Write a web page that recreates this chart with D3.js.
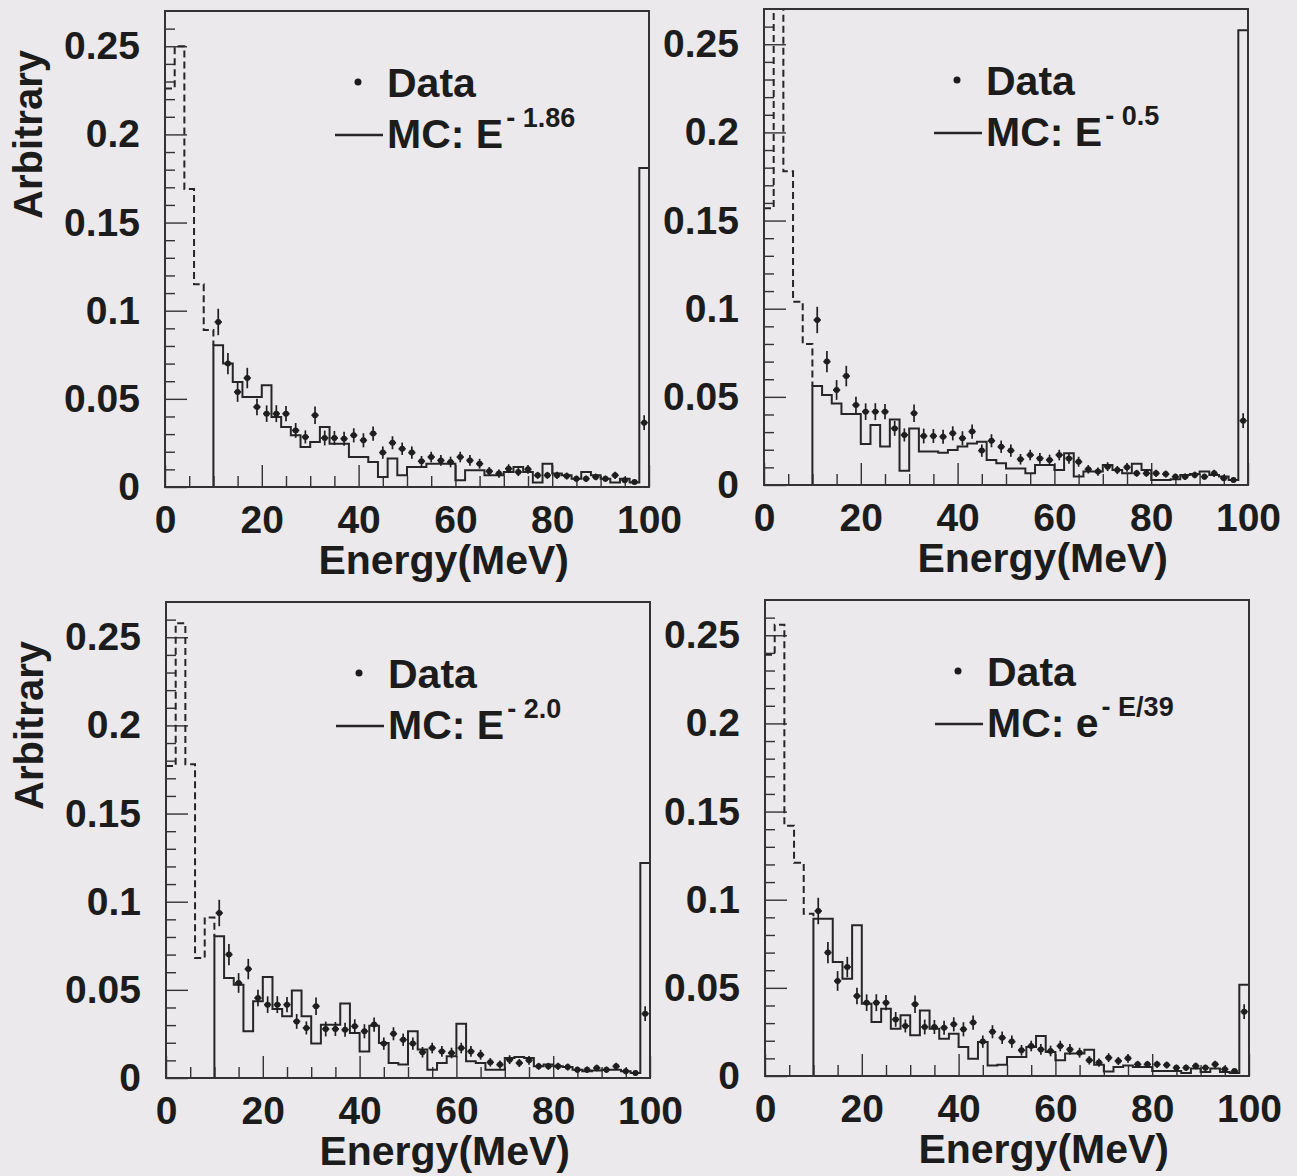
<!DOCTYPE html>
<html>
<head>
<meta charset="utf-8">
<script src="https://cdn.jsdelivr.net/npm/d3@7"></script>
<style>
  html, body { margin: 0; padding: 0; background: #ebe9eb; }
  svg { display: block; }
  text { font-family: "Liberation Sans", Arial, Helvetica, sans-serif; font-weight: bold; fill: #1c1c1c; }
</style>
</head>
<body>
<svg id="chart" width="1297" height="1176"></svg>
<script>
// Lower edges of the 2 MeV energy bins (MeV)
const binLowEdges = [0, 2, 4, 6, 8, 10, 12, 14, 16, 18, 20, 22, 24, 26, 28, 30, 32, 34, 36, 38,
  40, 42, 44, 46, 48, 50, 52, 54, 56, 58, 60, 62, 64, 66, 68, 70, 72, 74, 76, 78,
  80, 82, 84, 86, 88, 90, 92, 94, 96, 98];
const binWidth = 2;
const thresholdMeV = 10; // MC below this energy is drawn dashed

// Measured spectrum (bin centres, normalised content, statistical error)
const dataEnergy = [11, 13, 15, 17, 19, 21, 23, 25, 27, 29, 31, 33, 35, 37, 39, 41, 43, 45, 47, 49,
  51, 53, 55, 57, 59, 61, 63, 65, 67, 69, 71, 73, 75, 77, 79, 81, 83, 85, 87, 89,
  91, 93, 95, 97, 99];
const dataValue = [0.0936, 0.070, 0.0539, 0.0618, 0.0454, 0.0416, 0.0416, 0.0416, 0.0321, 0.0284,
  0.0407, 0.0278, 0.0278, 0.0274, 0.0293, 0.0265, 0.0303, 0.0195, 0.0251, 0.0217,
  0.0195, 0.0146, 0.0170, 0.0151, 0.0142, 0.0170, 0.0151, 0.0132, 0.0089, 0.0076,
  0.0104, 0.0085, 0.0100, 0.0066, 0.0066, 0.0066, 0.0062, 0.0047, 0.0047, 0.0057,
  0.0047, 0.0066, 0.0038, 0.0028, 0.0365];
const dataError = [0.0075, 0.0060, 0.0056, 0.0058, 0.0047, 0.0047, 0.0048, 0.0043, 0.0042, 0.0037,
  0.0049, 0.0042, 0.0040, 0.0040, 0.0040, 0.0040, 0.0040, 0.0035, 0.0037, 0.0035,
  0.0035, 0.0030, 0.0030, 0.0030, 0.0030, 0.0030, 0.0030, 0.0028, 0.0024, 0.0023,
  0.0025, 0.0023, 0.0025, 0.0020, 0.0020, 0.0020, 0.0020, 0.0018, 0.0018, 0.0019,
  0.0018, 0.0020, 0.0016, 0.0014, 0.0042];

// Monte Carlo spectra, one value per 2 MeV bin (0-100 MeV)
const mcPowerE186 = [0.226, 0.250, 0.169, 0.115, 0.089,
  0.0804, 0.070, 0.0596, 0.051, 0.051, 0.0577, 0.0397, 0.034, 0.0293, 0.0227,
  0.0255, 0.034, 0.0246, 0.0246, 0.017, 0.017, 0.0142, 0.0057, 0.0161, 0.0066,
  0.0113, 0.0113, 0.0132, 0.0132, 0.0132, 0.0038, 0.0095, 0.0095, 0.0066, 0.0066,
  0.0085, 0.0113, 0.0085, 0.0025, 0.0132, 0.0076, 0.0066, 0.0047, 0.0085, 0.0066,
  0.0047, 0.0025, 0.0047, 0.0025, 0.181];
const mcPowerE05 = [0.157, 0.300, 0.178, 0.104, 0.080,
  0.0562, 0.0511, 0.0463, 0.0403, 0.0403, 0.0232, 0.0341, 0.0218, 0.0372, 0.0081,
  0.0321, 0.019, 0.019, 0.0183, 0.0199, 0.0218, 0.0236, 0.0245, 0.0142, 0.0123,
  0.0094, 0.0094, 0.0066, 0.0114, 0.0114, 0.0085, 0.018, 0.0048, 0.0076, 0.0076,
  0.0114, 0.0085, 0.0066, 0.012, 0.0085, 0.0028, 0.0028, 0.0032, 0.0057, 0.0063,
  0.0076, 0.0057, 0.0048, 0.0028, 0.258];
const mcPowerE20 = [0.177, 0.258, 0.178, 0.068, 0.091,
  0.0804, 0.0567, 0.0529, 0.0265, 0.0435, 0.0573, 0.0391, 0.035, 0.0497, 0.035,
  0.0195, 0.0302, 0.0302, 0.0422, 0.0255, 0.0151, 0.0297, 0.0199, 0.0085, 0.0076,
  0.0265, 0.0161, 0.0047, 0.0085, 0.0123, 0.0308, 0.0095, 0.0085, 0.0047, 0.0047,
  0.0113, 0.0119, 0.0113, 0.0066, 0.0076, 0.0066, 0.0062, 0.0047, 0.0038, 0.0042,
  0.0047, 0.0047, 0.0038, 0.0028, 0.122];
const mcExpE39 = [0.239, 0.256, 0.142, 0.121, 0.092,
  0.0892, 0.0892, 0.0647, 0.0552, 0.0855, 0.041, 0.0306, 0.0382, 0.0268, 0.0344,
  0.0231, 0.0372, 0.0268, 0.0212, 0.024, 0.0164, 0.0098, 0.0193, 0.006, 0.0064,
  0.0108, 0.0108, 0.0164, 0.0227, 0.0136, 0.0089, 0.0127, 0.0127, 0.0149, 0.0064,
  0.0026, 0.0051, 0.006, 0.0051, 0.0051, 0.0028, 0.0028, 0.0028, 0.0017, 0.0042,
  0.0023, 0.0042, 0.0023, 0.0017, 0.0518];

// Axis ticks and labels
const xMajorTicks = [0, 20, 40, 60, 80, 100];
const xTickLabels = ["0", "20", "40", "60", "80", "100"];
const xMinorTicks = [5, 10, 15, 25, 30, 35, 45, 50, 55, 65, 70, 75, 85, 90, 95];
const yMajorTicks = [0, 0.05, 0.1, 0.15, 0.2, 0.25];
const yTickLabels = ["0", "0.05", "0.1", "0.15", "0.2", "0.25"];
const yMinorTicks = [0.01, 0.02, 0.03, 0.04, 0.06, 0.07, 0.08, 0.09, 0.11, 0.12, 0.13, 0.14,
  0.16, 0.17, 0.18, 0.19, 0.21, 0.22, 0.23, 0.24, 0.26];

// Legend texts
const legendBase = ["E", "E", "E", "e"];
const legendExponent = ["- 1.86", "- 0.5", "- 2.0", "- E/39"];
const mcSeries = [mcPowerE186, mcPowerE05, mcPowerE20, mcExpE39];

// Panel placement
const panelOrigins = [[165, 11], [764, 9], [166, 602], [765, 600]];
const showYTitle = [true, false, true, false];
const W = 484, H = 476;

const svg = d3.select("#chart");
svg.append("rect").attr("width", 1297).attr("height", 1176).attr("fill", "#ebe9eb");

const x = d3.scaleLinear().domain([0, 100]).range([0, W]);
const y = d3.scaleLinear().domain([0, 0.27]).range([H, 0]);

const stepLine = d3.line().x(d => x(d[0])).y(d => y(d[1])).curve(d3.curveStepAfter);

mcSeries.forEach((mc, pi) => {
  const [ox, oy] = panelOrigins[pi];
  const g = svg.append("g").attr("transform", `translate(${ox},${oy})`);

  const clipId = "clip" + pi;
  g.append("clipPath").attr("id", clipId)
    .append("rect").attr("x", 0).attr("y", 0).attr("width", W).attr("height", H);

  // Axes: minor and major ticks pointing into the frame
  const styleAxis = sel => {
    sel.select(".domain").remove();
    sel.attr("color", "#333").attr("font-size", 39).attr("font-family", null);
    sel.selectAll(".tick line").attr("stroke-width", 1.4);
  };
  g.append("g").attr("transform", `translate(0,${H})`)
    .call(d3.axisBottom(x).tickValues(xMinorTicks).tickSize(-11).tickFormat(""))
    .call(styleAxis);
  g.append("g").attr("transform", `translate(0,${H})`)
    .call(d3.axisBottom(x).tickValues(xMajorTicks).tickSize(-22).tickPadding(18)
      .tickFormat((d, i) => xTickLabels[i]))
    .call(styleAxis);
  g.append("g")
    .call(d3.axisLeft(y).tickValues(yMinorTicks).tickSize(-10).tickFormat(""))
    .call(styleAxis);
  g.append("g")
    .call(d3.axisLeft(y).tickValues(yMajorTicks).tickSize(-22).tickPadding(25)
      .tickFormat((d, i) => yTickLabels[i]))
    .call(styleAxis);

  const plot = g.append("g").attr("clip-path", `url(#${clipId})`);

  // MC histogram below threshold (dashed)
  const belowIdx = binLowEdges.map((e, i) => i).filter(i => binLowEdges[i] < thresholdMeV);
  const firstSolid = belowIdx.length;
  const dashedPts = belowIdx.map(i => [binLowEdges[i], mc[i]]);
  dashedPts.push([thresholdMeV, mc[firstSolid]]);
  plot.append("path").attr("d", stepLine(dashedPts))
    .attr("fill", "none").attr("stroke", "#262626").attr("stroke-width", 2)
    .attr("stroke-dasharray", "7,4");

  // MC histogram above threshold (solid)
  const solidPts = [[thresholdMeV, 0]];
  for (let i = firstSolid; i < binLowEdges.length; i++) solidPts.push([binLowEdges[i], mc[i]]);
  const last = binLowEdges.length - 1;
  solidPts.push([binLowEdges[last] + binWidth, mc[last]]);
  solidPts.push([binLowEdges[last] + binWidth, 0]);
  plot.append("path").attr("d", stepLine(solidPts))
    .attr("fill", "none").attr("stroke", "#262626").attr("stroke-width", 2);

  // Data points with error bars
  const pts = plot.append("g").attr("stroke", "#1e1e1e").attr("stroke-width", 1.7);
  dataEnergy.forEach((e, i) => {
    const v = dataValue[i], err = dataError[i];
    pts.append("line").attr("x1", x(e)).attr("x2", x(e))
      .attr("y1", y(v - err)).attr("y2", y(v + err));
    pts.append("line").attr("x1", x(e - 0.75)).attr("x2", x(e + 0.75))
      .attr("y1", y(v)).attr("y2", y(v));
    pts.append("circle").attr("cx", x(e)).attr("cy", y(v)).attr("r", 3)
      .attr("fill", "#1e1e1e").attr("stroke", "none");
  });

  // Frame
  g.append("rect").attr("x", 0).attr("y", 0).attr("width", W).attr("height", H)
    .attr("fill", "none").attr("stroke", "#333").attr("stroke-width", 2);

  // Axis titles
  g.append("text").attr("x", W - 80).attr("y", H + 87)
    .attr("text-anchor", "end").attr("font-size", 41).text("Energy(MeV)");
  if (showYTitle[pi]) {
    g.append("text").attr("transform", "translate(-123,39) rotate(-90)")
      .attr("text-anchor", "end").attr("font-size", 40).text("Arbitrary");
  }

  // Legend
  g.append("circle").attr("cx", 193).attr("cy", 71).attr("r", 3.5).attr("fill", "#1c1c1c");
  g.append("text").attr("x", 222).attr("y", 86).attr("font-size", 41).text("Data");
  g.append("line").attr("x1", 170).attr("x2", 218).attr("y1", 124).attr("y2", 124)
    .attr("stroke", "#262626").attr("stroke-width", 2.5);
  const mcText = g.append("text").attr("x", 222).attr("y", 137).attr("font-size", 41);
  mcText.append("tspan").text("MC: " + legendBase[pi]);
  mcText.append("tspan").attr("font-size", 27).attr("dy", -21).attr("dx", 3)
    .text(legendExponent[pi]);
});
</script>
</body>
</html>
